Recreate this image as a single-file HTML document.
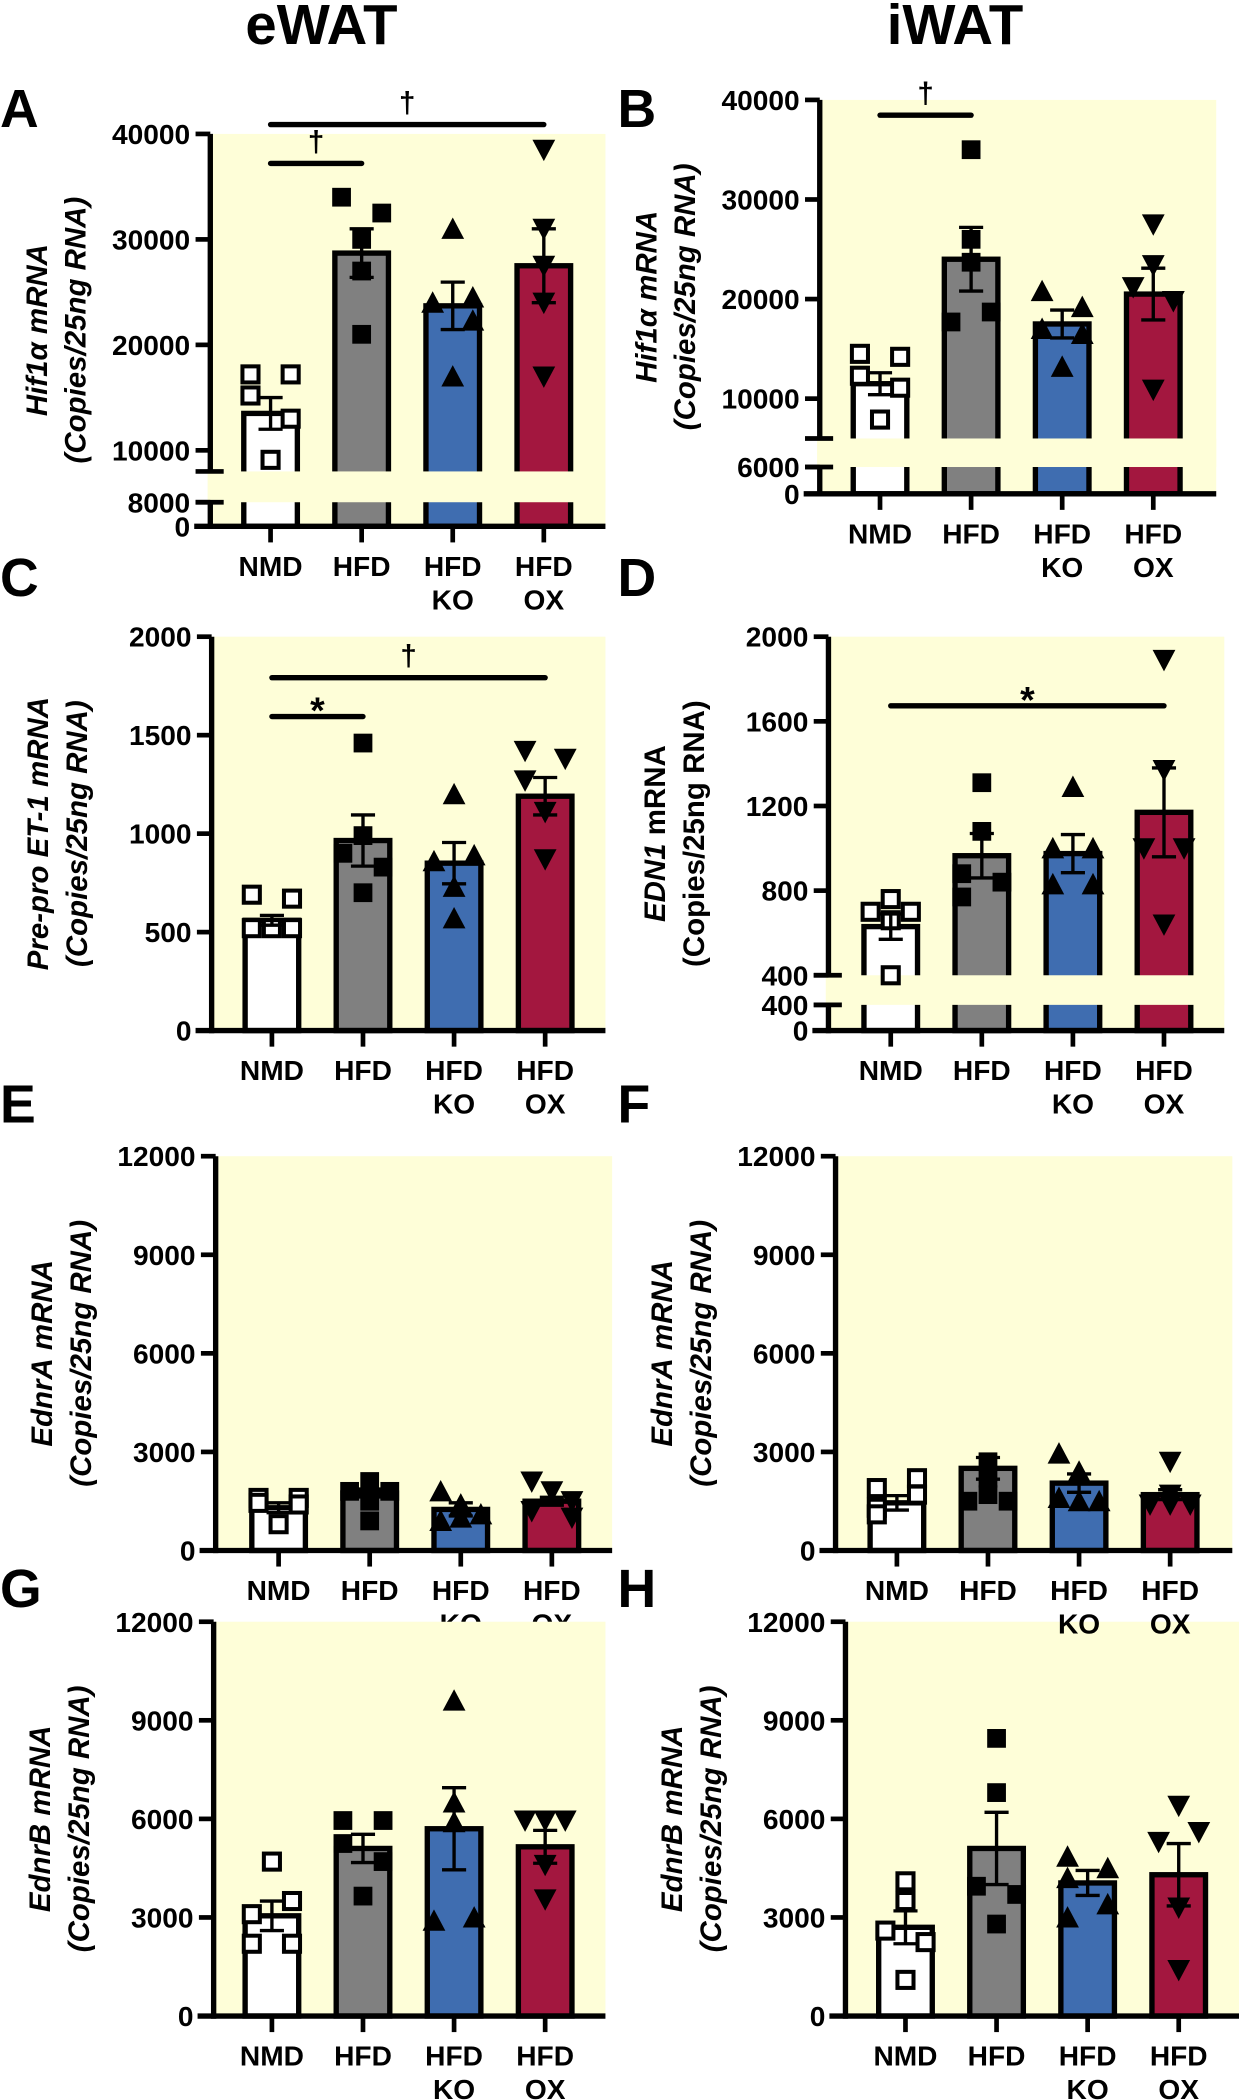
<!DOCTYPE html>
<html><head><meta charset="utf-8"><title>eWAT / iWAT mRNA panels</title>
<style>
html,body{margin:0;padding:0;background:#fff;}
svg{display:block;}
text{font-family:"Liberation Sans",Arial,sans-serif;font-weight:bold;fill:#000;}
</style></head>
<body>
<svg id="fig" xmlns="http://www.w3.org/2000/svg" width="1239" height="2100" viewBox="0 0 925 1568" preserveAspectRatio="none">
<text x="240" y="33" font-size="42" text-anchor="middle">eWAT</text>
<text x="713" y="33" font-size="42" text-anchor="middle">iWAT</text>
</svg>
<script>
// ---------- DATA ----------
const categories = ["NMD","HFD","HFD KO","HFD OX"];
const catLine1 = ["NMD","HFD","HFD","HFD"];
const catLine2 = ["","","KO","OX"];

const A_means = [13500, 28700, 23700, 27500];
const A_sem = [1500, 2300, 2250, 3500];
const A_pts = [[17200,17200,15200,13000,9100],[34000,32500,30000,27000,21000],[31000,24000,24500,22300,17000],[38500,31000,27500,24000,17000]];
const A_jit = [[-1,1,-1,1,0],[-1,1,0,0,0],[0,-1,1,1,0],[0,0,0,0,0]];
const A_ticksUpper = [10000,20000,30000,40000];
const A_ticksLower = [0,8000];

const B_means = [11500, 24000, 17500, 20500];
const B_sem = [1100, 3200, 1400, 2600];
const B_pts = [[14500,14200,12300,11100,7900],[35000,26000,23700,18700,17700],[20800,19200,17000,16500,13200],[27500,23400,21200,19800,10900]];
const B_jit = [[-1,1,-1,1,0],[0,0,0,1,-1],[-1,1,-1,1,0],[0,0,-1,1,0]];
const B_ticksUpper = [10000,20000,30000,40000];
const B_ticksLower = [0,6000];

const C_means = [560, 965, 850, 1190];
const C_sem = [25, 130, 105, 95];
const C_pts = [[690,670,520,520,520],[1460,990,900,830,700],[1200,890,860,730,570],[1420,1380,1270,1110,870]];
const C_jit = [[-1,1,-1,0,1],[0,0,-1,1,0],[0,1,-1,0,0],[-1,1,-1,0,0]];
const C_ticks = [0,500,1000,1500,2000];

const D_means = [630, 965, 975, 1170];
const D_sem = [60, 105, 90, 210];
const D_pts = [[760,700,700,660,400],[1310,1080,880,840,770],[1290,1000,1000,830,830],[1890,1370,1000,1000,640]];
const D_jit = [[0,-1,1,0,0],[0,0,-1,1,-1],[0,-1,1,-1,1],[0,0,-1,1,0]];
const D_ticksUpper = [400,800,1200,1600,2000];
const D_ticksLower = [0,400];

const E_means = [1300, 1750, 1250, 1500];
const E_sem = [150, 120, 200, 120];
const E_pts = [[1600,1600,1450,1400,800],[2100,1800,1800,1500,900],[1800,1400,1100,1000,900],[2100,1800,1500,1200,1000]];
const E_jit = [[-1,1,-1,1,0],[0,-1,1,0,0],[-1,0,1,0,-1],[-1,0,1,-1,1]];

const F_means = [1450, 2500, 2050, 1700];
const F_sem = [220, 330, 280, 150];
const F_pts = [[2200,1900,1700,1300,1100],[2700,2200,1700,1500,1500],[2950,2400,1600,1500,1500],[2700,1700,1400,1400,1400]];
const F_jit = [[1,-1,1,-1,-1],[0,0,0,-1,1],[-1,0,-1,0,1],[0,0,-1,0,1]];

const G_means = [3050, 5100, 5700, 5150];
const G_sem = [450, 430, 1250, 500];
const G_pts = [[4700,3500,3100,2200,2200],[5950,5950,5250,4700,3650],[9600,6500,5900,3000,2900],[5950,5950,5950,4600,3550]];
const G_jit = [[0,1,-1,-1,1],[-1,1,-1,1,0],[0,0,0,1,-1],[-1,0,1,0,0]];

const H_means = [2700, 5100, 4050, 4300];
const H_sem = [500, 1100, 380, 950];
const H_pts = [[4100,3500,2600,2250,1100],[8450,6800,3950,3700,2800],[4850,4500,4200,3400,3000],[6400,5600,5300,3300,1400]];
const H_jit = [[0,0,-1,1,0],[0,0,-1,1,0],[-1,1,-1,1,-1],[0,1,-1,0,0]];

const EDN_ticks = [0,3000,6000,9000,12000];

// ---------- RENDER ----------
const NS = "http://www.w3.org/2000/svg";
const svg = document.getElementById("fig");
const fills = ["#ffffff","#808080","#3f6db0","#a3173f"];
const BG = "#fefed8";
function mk(tag, attrs, parent){
  const e = document.createElementNS(NS, tag);
  for (const k in attrs) e.setAttribute(k, attrs[k]);
  (parent||svg).appendChild(e);
  return e;
}
function segMap(s, v){ return s.y0 + (v - s.v0) / (s.v1 - s.v0) * (s.y1 - s.y0); }
function makeScale(segs){
  return function(v){
    let s = segs[segs.length-1];
    for (const g of segs){ if (v >= g.v0 && v <= g.v1){ s = g; break; } }
    if (v > segs[0].v1) s = segs[0];
    return segMap(s, v);
  };
}
function marker(g, shape, x, y){
  const s = 7.5;
  let el;
  if (shape === 0){
    el = mk("rect",{x:x-s+1.5,y:y-s+1.5,width:2*s-3,height:2*s-3,fill:"#fff",stroke:"#000","stroke-width":3},g);
  } else if (shape === 1){
    el = mk("rect",{x:x-s+0.5,y:y-s+0.5,width:2*s-1,height:2*s-1,fill:"#000"},g);
  } else if (shape === 2){
    el = mk("polygon",{points:`${x},${y-s-1} ${x+s+1},${y+s} ${x-s-1},${y+s}`,fill:"#000"},g);
  } else {
    el = mk("polygon",{points:`${x},${y+s+1} ${x+s+1},${y-s} ${x-s-1},${y-s}`,fill:"#000"},g);
  }
  
  
}
function catLabels(p, parent){
  const y0 = p.segs[p.segs.length-1].y0;
  for (let i=0;i<4;i++){
    const cx = p.bar0 + i*68;
    const t = mk("text",{x:cx,y:y0+37,"font-size":21,"text-anchor":"middle"},parent);
    t.textContent = catLine1[i];
    
    
    if (catLine2[i]){
      const t2 = mk("text",{x:cx,y:y0+62,"font-size":21,"text-anchor":"middle"},parent);
      t2.textContent = catLine2[i];
      
      
    }
  }
}
function panel(p){
  const g = mk("g",{});
  
  
  const y = makeScale(p.segs);
  const top = p.segs[0].y1;
  const y0 = p.segs[p.segs.length-1].y0;
  const ax = p.axisX;
  const bg = mk("rect",{x:ax,y:top,width:p.bgRight-ax,height:y0-top,fill:BG},g);
  
  
  const L = mk("text",{x:p.letterX,y:p.letterY,"font-size":40},g);
  L.textContent = p.letter;
  
  
  for (let i=0;i<4;i++){
    const cx = p.bar0 + i*68;
    const yt = y(p.means[i]);
    const b = mk("rect",{x:cx-20,y:yt,width:40,height:y0-yt,fill:fills[i],stroke:"#000","stroke-width":4},g);
    
    
  }
  if (p.segs.length > 1){
    const up = p.segs[0], lo = p.segs[1];
    const gp = mk("rect",{x:ax-2,y:up.y0,width:p.bgRight-ax+2,height:lo.y1-up.y0,fill:BG},g);
    
    
  }
  for (let i=0;i<4;i++){
    const cx = p.bar0 + i*68;
    p.pts[i].forEach((v,k)=>{ marker(g, i, cx + p.jit[i][k]*15, y(v)); });
  }
  for (let i=0;i<4;i++){
    const cx = p.bar0 + i*68;
    const yu = y(p.means[i]+p.sem[i]), yl = y(p.means[i]-p.sem[i]);
    const e = mk("path",{d:`M${cx},${yl}V${yu}M${cx-9},${yu}H${cx+9}M${cx-9},${yl}H${cx+9}`,stroke:"#000","stroke-width":2.5,fill:"none"},g);
    
    
  }
  p.segs.forEach((s,si)=>{
    const a = mk("line",{x1:ax,y1:s.y0+(si===p.segs.length-1?2:0),x2:ax,y2:s.y1,stroke:"#000","stroke-width":4},g);
    
    
  });
  if (p.segs.length > 1){
    [p.segs[0].y0, p.segs[1].y1].forEach(yy=>{
      const bt = mk("line",{x1:ax-11,y1:yy,x2:ax+10,y2:yy,stroke:"#000","stroke-width":3.5},g);
      
      
    });
  }
  const xa = mk("line",{x1:ax-12,y1:y0,x2:p.bgRight,y2:y0,stroke:"#000","stroke-width":4},g);
  
  
  for (let i=0;i<4;i++){
    const cx = p.bar0 + i*68;
    const t = mk("line",{x1:cx,y1:y0,x2:cx,y2:y0+12,stroke:"#000","stroke-width":3.5},g);
    
    
  }
  // ticks: list of [values, segmentIndex]
  p.ticks.forEach(([vals, si])=>{
    const s = p.segs[si];
    vals.forEach(v=>{
      const yy = segMap(s, v);
      const tk = mk("line",{x1:ax-11,y1:yy,x2:ax,y2:yy,stroke:"#000","stroke-width":3.5},g);
      
      
      const tl = mk("text",{x:ax-15,y:yy+7.5,"font-size":21,"text-anchor":"end"},g);
      tl.textContent = String(v);
      
      
    });
  });
  const cy = (top + y0)/2;
  const t1 = mk("text",{x:ax-122,y:cy,"font-size":22,"text-anchor":"middle",transform:`rotate(-90 ${ax-122} ${cy})`},g);
  p.title1.forEach(([s,it])=>{ const ts = mk("tspan",{"font-style":it?"italic":"normal"},t1); ts.textContent = s; });
  
  
  const t2 = mk("text",{x:ax-93,y:cy,"font-size":22,"text-anchor":"middle","font-style":p.title2Italic?"italic":"normal",transform:`rotate(-90 ${ax-93} ${cy})`},g);
  t2.textContent = "(Copies/25ng RNA)";
  
  
  (p.sig||[]).forEach(s=>{
    const x1 = p.bar0 + s.a*68, x2 = p.bar0 + s.b*68;
    const ln = mk("line",{x1:x1,y1:s.y,x2:x2,y2:s.y,stroke:"#000","stroke-width":4,"stroke-linecap":"round"},g);
    
    
    const st = mk("text",{x:(x1+x2)/2,y:s.sym==="*"?s.y+5:s.y-9,"font-size":s.sym==="*"?28:22,"text-anchor":"middle"},g);
    st.textContent = s.sym;
    
    
  });
  if (!p.labelsLater) catLabels(p, g);
  return p;
}

const italicT = (gene)=>[[gene,true],[" mRNA",true]];
panel({letter:"A",letterX:0,letterY:95,axisX:157,bar0:202,bgRight:452,
  segs:[{v0:8000,v1:40000,y0:352,y1:100},{v0:0,v1:8000,y0:393,y1:375}],
  ticks:[[A_ticksUpper,0],[A_ticksLower,1]],means:A_means,sem:A_sem,pts:A_pts,jit:A_jit,
  title1:italicT("Hif1α"),title2Italic:true,
  sig:[{a:0,b:1,y:122,sym:"†"},{a:0,b:3,y:93,sym:"†"}]});
panel({letter:"B",letterX:461,letterY:95,axisX:612,bar0:657,bgRight:908,
  segs:[{v0:6000,v1:40000,y0:327.4,y1:74.6},{v0:0,v1:6000,y0:368.7,y1:348.7}],
  ticks:[[B_ticksUpper,0],[B_ticksLower,1]],means:B_means,sem:B_sem,pts:B_pts,jit:B_jit,
  title1:italicT("Hif1α"),title2Italic:true,
  sig:[{a:0,b:1,y:86,sym:"†"}]});
panel({letter:"C",letterX:0,letterY:445,axisX:158,bar0:203,bgRight:452,
  segs:[{v0:0,v1:2000,y0:769.5,y1:475.4}],
  ticks:[[C_ticks,0]],means:C_means,sem:C_sem,pts:C_pts,jit:C_jit,
  title1:italicT("Pre-pro ET-1"),title2Italic:true,
  sig:[{a:0,b:1,y:535,sym:"*"},{a:0,b:3,y:506,sym:"†"}]});
panel({letter:"D",letterX:461,letterY:445,axisX:618.5,bar0:665,bgRight:914,
  segs:[{v0:400,v1:2000,y0:728.2,y1:475.4},{v0:0,v1:400,y0:769.5,y1:750.3}],
  ticks:[[D_ticksUpper,0],[D_ticksLower,1]],means:D_means,sem:D_sem,pts:D_pts,jit:D_jit,
  title1:[["EDN1",true],[" mRNA",false]],title2Italic:false,
  sig:[{a:0,b:3,y:527,sym:"*"}]});
panel({letter:"E",letterX:0,letterY:838,axisX:161,bar0:208,bgRight:457,
  segs:[{v0:0,v1:12000,y0:1157.7,y1:863.3}],
  ticks:[[EDN_ticks,0]],means:E_means,sem:E_sem,pts:E_pts,jit:E_jit,
  title1:italicT("EdnrA"),title2Italic:true});
const pF = panel({letter:"F",letterX:461,letterY:838,axisX:623.8,bar0:669.6,bgRight:920,labelsLater:true,
  segs:[{v0:0,v1:12000,y0:1157.7,y1:863.3}],
  ticks:[[EDN_ticks,0]],means:F_means,sem:F_sem,pts:F_pts,jit:F_jit,
  title1:italicT("EdnrA"),title2Italic:true});
panel({letter:"G",letterX:0,letterY:1200,axisX:159.5,bar0:203,bgRight:452,
  segs:[{v0:0,v1:12000,y0:1505.3,y1:1210.9}],
  ticks:[[EDN_ticks,0]],means:G_means,sem:G_sem,pts:G_pts,jit:G_jit,
  title1:italicT("EdnrB"),title2Italic:true});
panel({letter:"H",letterX:461,letterY:1200,axisX:631.2,bar0:676,bgRight:925,
  segs:[{v0:0,v1:12000,y0:1505.3,y1:1210.9}],
  ticks:[[EDN_ticks,0]],means:H_means,sem:H_sem,pts:H_pts,jit:H_jit,
  title1:italicT("EdnrB"),title2Italic:true});
catLabels(pF, svg);
</script>
</body></html>
